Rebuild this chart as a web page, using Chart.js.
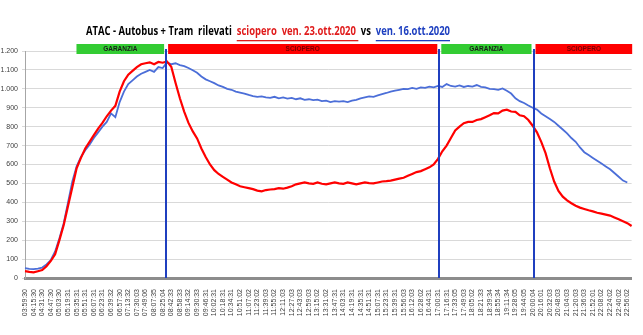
<!DOCTYPE html>
<html lang="it">
<head>
<meta charset="utf-8"/>
<script src="https://cdn.jsdelivr.net/npm/chart.js@4.4.0/dist/chart.umd.min.js"></script>
<style>body{margin:0;background:#fff}</style>
</head>
<body>
<canvas id="chart" width="643" height="335"></canvas>
<script>
// orari mostrati sull'asse x (uno ogni due campioni)
const tickTimes = [
  '03:59:30','04:15:30','04:31:30','04:47:30','05:03:30','05:19:31','05:35:31','05:51:31','06:07:31','06:23:31',
  '06:39:32','06:57:30','07:13:32','07:30:03','07:49:06','08:07:35','08:25:04','08:42:33','08:58:33','09:14:32',
  '09:30:33','09:46:31','10:02:31','10:18:31','10:34:31','10:51:02','11:07:02','11:23:02','11:39:03','11:55:02',
  '12:11:03','12:27:03','12:43:03','12:59:03','13:15:02','13:31:02','13:47:31','14:03:31','14:19:31','14:35:31',
  '14:51:31','15:07:31','15:23:31','15:39:31','15:56:03','16:12:03','16:28:02','16:44:31','17:00:31','17:16:31',
  '17:33:05','17:49:03','18:05:02','18:21:33','18:39:34','18:55:34','19:11:34','19:28:05','19:44:05','20:00:04',
  '20:16:01','20:32:03','20:48:03','21:04:03','21:20:03','21:36:03','21:52:01','22:08:02','22:24:02','22:40:02',
  '22:56:02'
];

// sciopero ven. 23.ott.2020
const strike = [
  36,32,30,36,42,62,90,125,200,280,
  380,480,580,635,685,720,755,790,820,855,
  885,910,985,1040,1075,1095,1115,1130,1135,1140,
  1130,1142,1138,1145,1117,1031,950,880,820,775,
  738,685,640,600,570,550,535,520,505,495,
  485,480,475,470,462,458,465,468,470,475,
  472,478,485,495,500,505,500,498,505,498,
  495,500,505,500,498,505,500,495,500,505,
  502,500,505,510,512,515,520,525,530,540,
  550,560,565,575,585,600,630,670,700,740,
  780,800,818,825,825,835,840,850,860,872,
  870,885,890,880,878,860,855,835,805,770,
  720,660,580,510,460,430,410,395,382,372,
  365,358,352,345,340,335,330,320,310,300,
  290,275
];

// ven. 16.ott.2020
const normal = [
  52,48,47,50,55,72,95,140,210,290,
  400,510,590,640,675,705,740,770,800,825,
  870,850,930,985,1025,1045,1065,1080,1090,1100,
  1090,1115,1110,1140,1130,1135,1125,1120,1110,1098,
  1085,1065,1050,1040,1030,1018,1010,1000,995,985,
  980,975,968,962,958,960,955,952,958,950,
  955,948,952,945,950,942,945,940,943,935,
  938,930,935,932,935,930,938,942,950,955,
  960,958,965,972,978,985,990,995,1000,998,
  1005,1000,1008,1005,1012,1008,1015,1010,1025,1015,
  1012,1018,1010,1015,1012,1020,1010,1008,1000,998,
  995,1002,990,975,950,935,925,912,900,890,
  870,855,840,825,805,785,765,740,720,690,
  665,650,635,620,605,590,575,555,535,515,
  505,null
];

// fasce orarie (in campioni)
const phaseNames = ['GARANZIA', 'SCIOPERO', 'GARANZIA', 'SCIOPERO'];
const phaseFrom = [11.5, 32.8, 96.3, 118.2];
const phaseTo = [32.8, 96.3, 118.2, 141.6];
const markers = [32.8, 96.3, 118.2];

const pointLabels = strike.map((_, i) => (i % 2 === 0 && tickTimes[i / 2]) ? tickTimes[i / 2] : '');

function itNumber(v) {
  return String(v).replace(/\B(?=(\d{3})+(?!\d))/g, '.');
}

const overlay = {
  id: 'overlay',
  afterDatasetsDraw(chart) {
    const ctx = chart.ctx, x = chart.scales.x, a = chart.chartArea;
    ctx.save();
    ctx.strokeStyle = '#1f3fbf';
    ctx.lineWidth = 2;
    markers.forEach(m => {
      const px = Math.round(x.getPixelForValue(m));
      ctx.beginPath();
      ctx.moveTo(px, a.top - 2);
      ctx.lineTo(px, a.bottom);
      ctx.stroke();
    });
    ctx.restore();
  },
  afterDraw(chart) {
    const ctx = chart.ctx, x = chart.scales.x, a = chart.chartArea;
    ctx.save();
    // bande
    phaseNames.forEach((name, i) => {
      const x0 = x.getPixelForValue(phaseFrom[i]) + 2;
      const x1 = x.getPixelForValue(phaseTo[i]) - 2;
      const garanzia = name === 'GARANZIA';
      ctx.fillStyle = garanzia ? '#33cc33' : '#ff0000';
      ctx.fillRect(x0, a.top - 7, x1 - x0, 10);
      ctx.fillStyle = garanzia ? '#1a1a1a' : '#7a0000';
      ctx.font = 'bold 6.5px "Liberation Sans"';
      ctx.textAlign = 'center';
      ctx.textBaseline = 'middle';
      ctx.fillText(name, (x0 + x1) / 2, a.top - 2);
    });
    ctx.restore();

    // titolo
    const parts = [
      {t: 'ATAC - Autobus + Tram  rilevati  ', c: '#000000', u: false},
      {t: 'sciopero  ven. 23.ott.2020 ', c: '#e01b1b', u: true},
      {t: ' vs  ', c: '#000000', u: false},
      {t: 'ven. 16.ott.2020', c: '#1d3fc0', u: true}
    ];
    ctx.save();
    ctx.font = 'bold 12px "Open Sans"';
    const total = parts.reduce((s, p) => s + ctx.measureText(p.t).width, 0);
    const k = 364 / total;
    ctx.translate(86, 0);
    ctx.scale(k, 1);
    ctx.textAlign = 'left';
    ctx.textBaseline = 'middle';
    let px = 0;
    parts.forEach(p => {
      const w = ctx.measureText(p.t).width;
      ctx.fillStyle = p.c;
      ctx.fillText(p.t, px, 32);
      if (p.u) {
        ctx.fillRect(px, 40, w, 1.3);
      }
      px += w;
    });
    ctx.restore();
  }
};

new Chart(document.getElementById('chart'), {
  type: 'line',
  data: {
    labels: pointLabels,
    datasets: [
      {
        label: 'sciopero ven. 23.ott.2020',
        data: strike,
        borderColor: '#ff0000',
        borderWidth: 2.2,
        pointRadius: 0,
        tension: 0,
        order: 0
      },
      {
        label: 'ven. 16.ott.2020',
        data: normal,
        borderColor: '#4b6ed8',
        borderWidth: 1.8,
        pointRadius: 0,
        tension: 0,
        order: 1
      }
    ]
  },
  options: {
    responsive: false,
    animation: false,
    layout: {padding: {top: 51, right: 6, left: 0, bottom: 0}},
    plugins: {legend: {display: false}, tooltip: {enabled: false}},
    scales: {
      x: {
        grid: {display: false},
        border: {display: true, color: '#8c8c8c', width: 3},
        afterFit(s) { s.height = 57; },
        ticks: {
          autoSkip: false,
          minRotation: 90,
          maxRotation: 90,
          padding: 3,
          color: '#404040',
          font: {size: 7, family: 'Liberation Sans'},
          callback: (v, i) => pointLabels[i]
        }
      },
      y: {
        min: 0,
        max: 1200,
        afterFit(s) { s.width = 25; },
        grid: {color: '#d9d9d9', lineWidth: 1, tickLength: 3},
        border: {color: '#a6a6a6'},
        ticks: {
          stepSize: 100,
          padding: 4,
          color: '#404040',
          font: {size: 7, family: 'Liberation Sans'},
          callback: v => itNumber(v)
        }
      }
    }
  },
  plugins: [overlay]
});
</script>
</body>
</html>
